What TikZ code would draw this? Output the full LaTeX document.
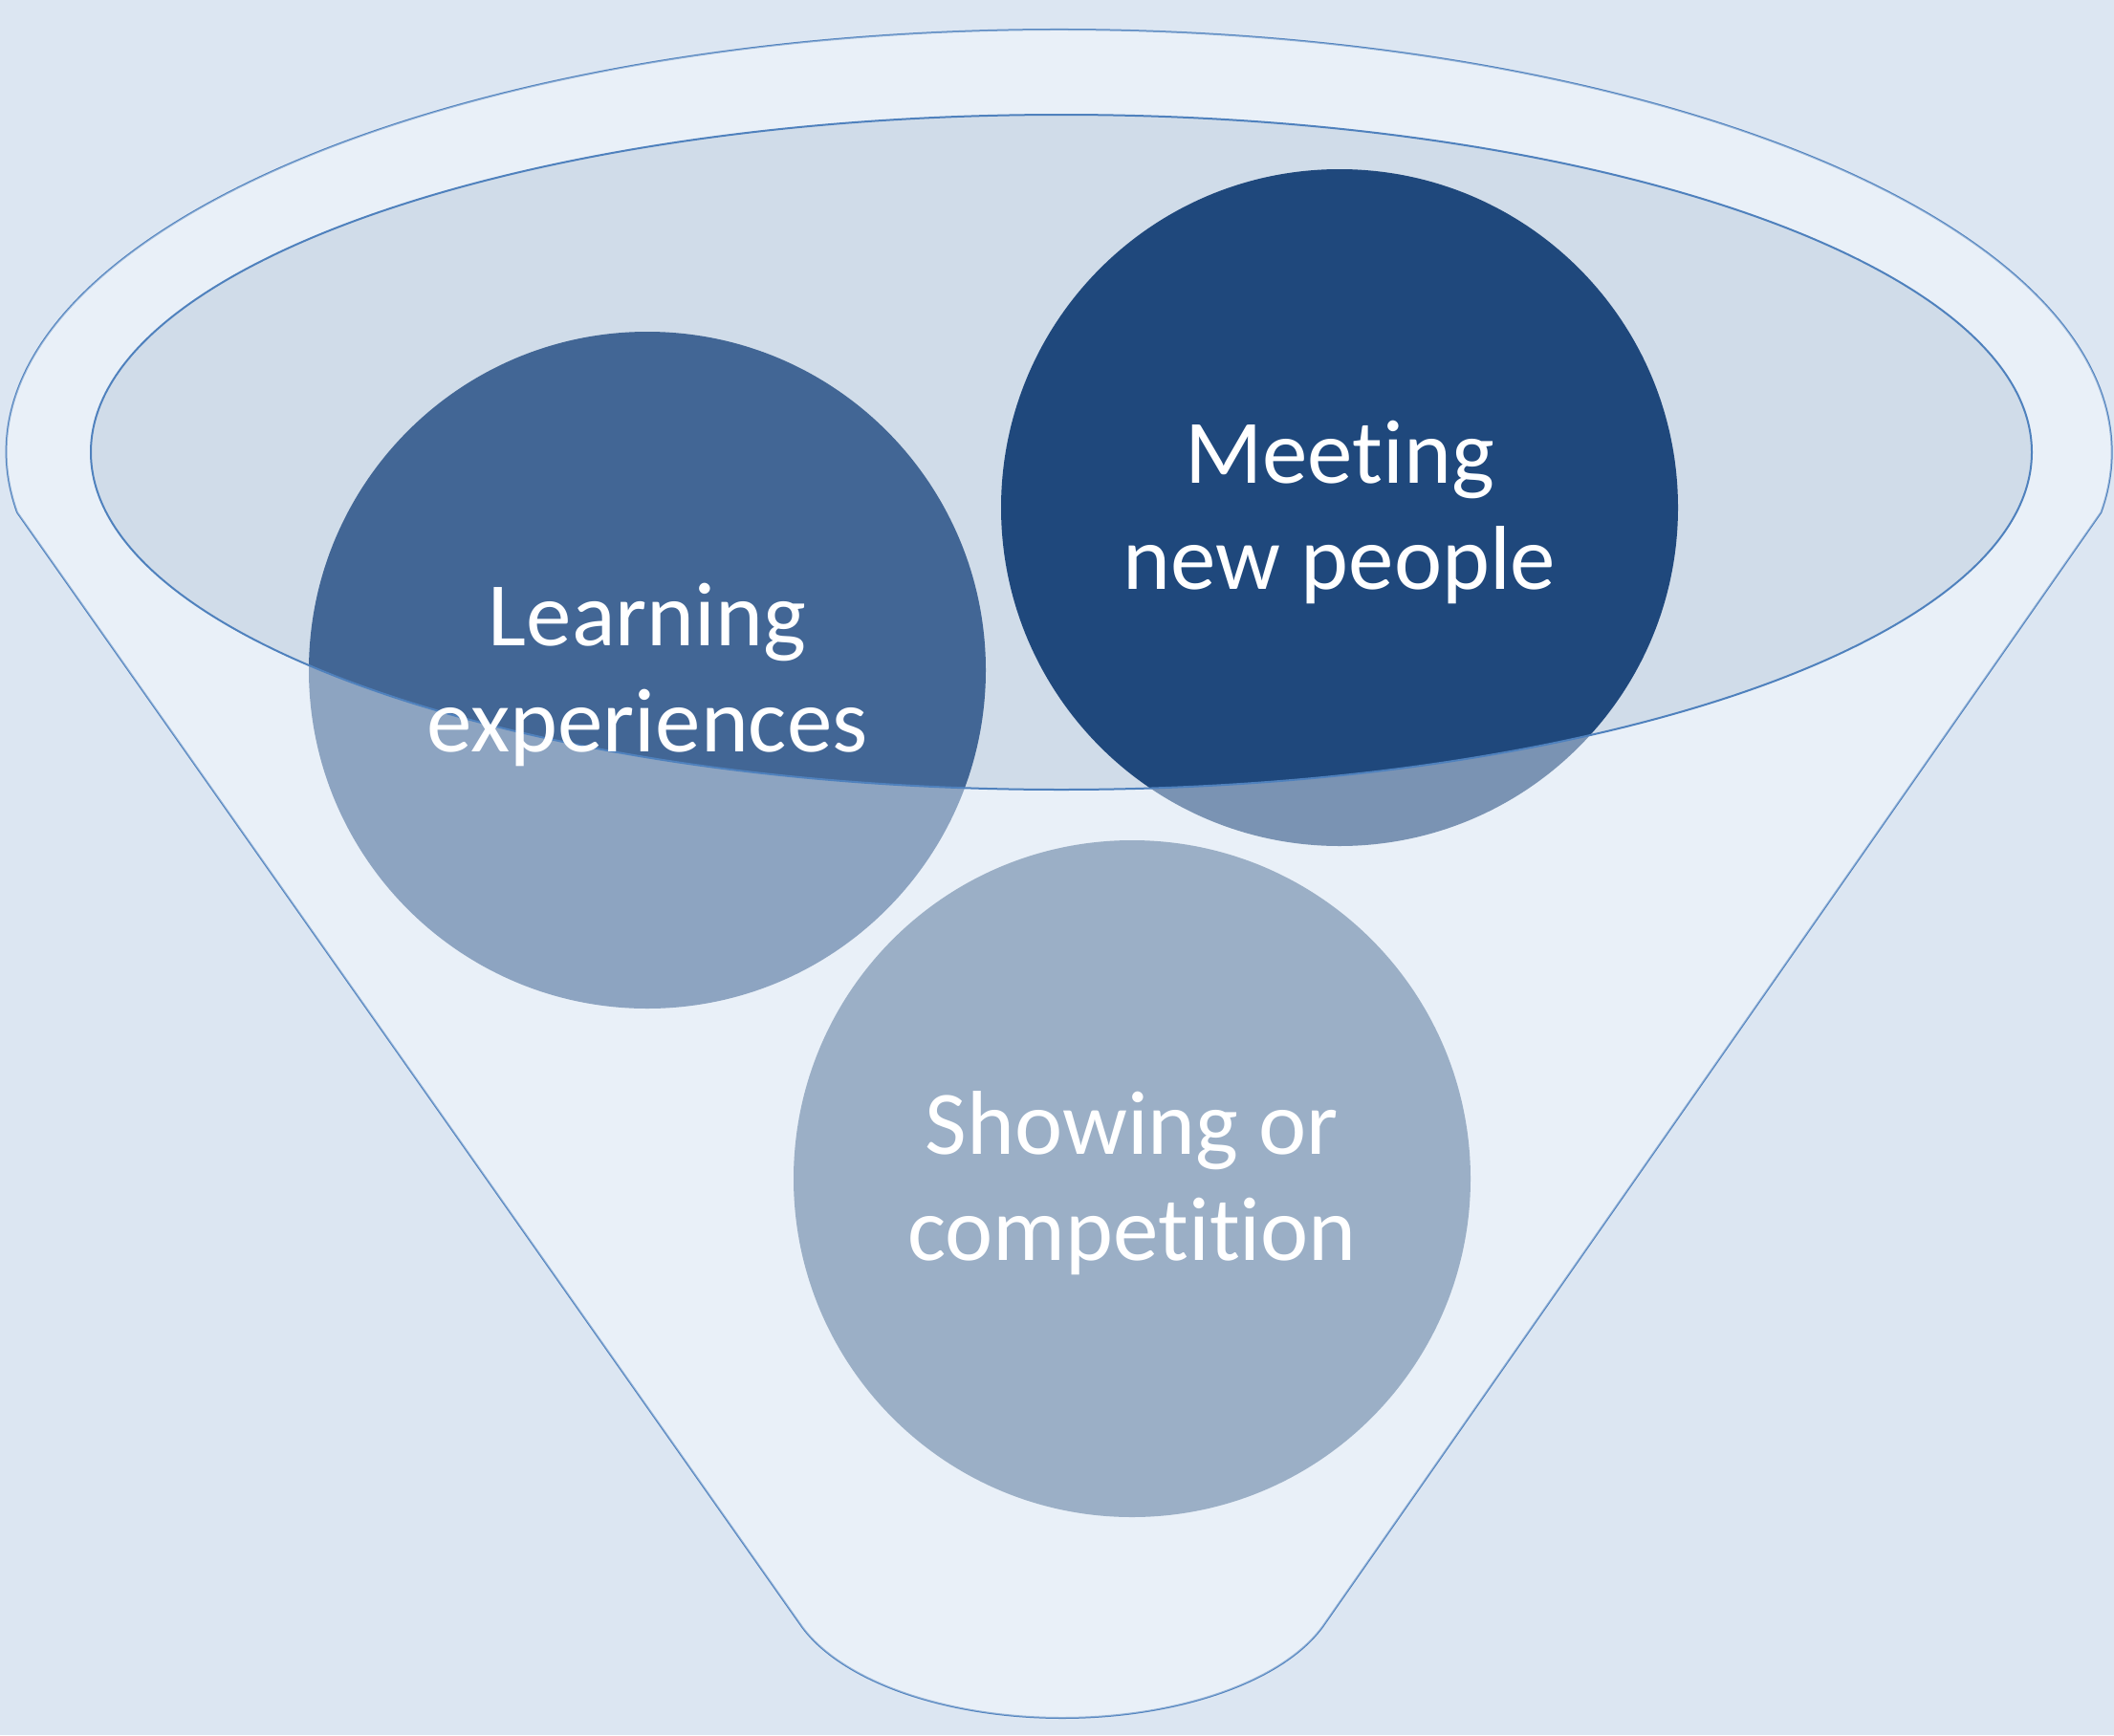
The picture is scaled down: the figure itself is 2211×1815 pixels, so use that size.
\documentclass[tikz,border=0pt]{standalone}
\usepackage{fontspec}
\setmainfont{Carlito}[Ligatures=NoCommon]
\begin{document}
\begin{tikzpicture}[x=0.5pt,y=0.5pt,yscale=-1,xscale=1]
\tikzset{
  rim/.style={draw={rgb, 255:red, 79; green, 129; blue, 189}, line width=1pt},
  label/.style={text={rgb, 255:red, 255; green, 255; blue, 255}, align=center, inner sep=0pt, yshift=-2.5pt, font=\fontsize{47.5}{55.5}\selectfont}
}
\useasboundingbox (0,0) rectangle (2211,1815);
%Background
\fill [color={rgb, 255:red, 220; green, 230; blue, 242 }] (0,0) rectangle (2211,1815);
%Shape: Funnel body
\filldraw [rim, fill={rgb, 255:red, 233; green, 240; blue, 248 }] (18,536) arc[start angle=171.8, end angle=368.2, x radius=1101, y radius=442] -- (1383,1702) arc[start angle=20.3, end angle=159.7, x radius=290, y radius=145.4] -- cycle ;
%Shape: Ellipse (mouth)
\fill [color={rgb, 255:red, 208; green, 220; blue, 233 }] (1110,473) ellipse[x radius=1015, y radius=353] ;
%Centres of the circles
\coordinate (learn) at (677,701);
\coordinate (meet) at (1401,531);
\coordinate (show) at (1184,1233);
%Shape: Circle
\fill [color={rgb, 255:red, 66; green, 102; blue, 149 }] (learn) circle[radius=354] ;
%Shape: Circle
\fill [color={rgb, 255:red, 31; green, 72; blue, 124 }] (meet) circle[radius=354] ;
%Shape: Circle
\fill [color={rgb, 255:red, 91; green, 122; blue, 157 }] (show) circle[radius=354] ;
%Front of the funnel, over the circles
\fill [even odd rule, color={rgb, 255:red, 233; green, 240; blue, 248 }, fill opacity=0.45] (18,536) arc[start angle=171.8, end angle=368.2, x radius=1101, y radius=442] -- (1383,1702) arc[start angle=20.3, end angle=159.7, x radius=290, y radius=145.4] -- cycle (1110,473) ellipse[x radius=1015, y radius=353] ;
%Shape: Ellipse outline
\draw [rim] (1110,473) ellipse[x radius=1015, y radius=353] ;
% Text Node
\node [label] (learntxt) at (learn) {Learning\\experiences};
% Text Node
\node [label] (meettxt) at (meet) {Meeting\\new people};
% Text Node
\node [label] (showtxt) at (show) {Showing or\\competition};
\end{tikzpicture}
\end{document}
